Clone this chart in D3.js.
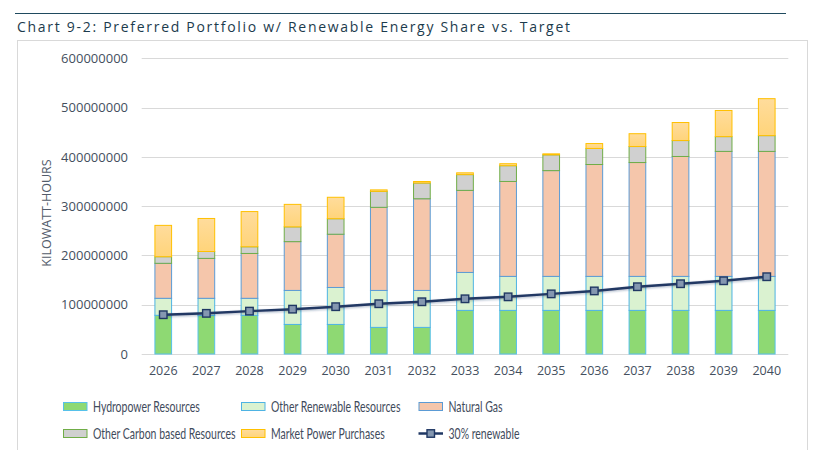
<!DOCTYPE html>
<html><head><meta charset="utf-8">
<script src="https://cdn.jsdelivr.net/npm/d3@7"></script>
<style>html,body{margin:0;padding:0;background:#fff;} svg{display:block;}</style>
</head><body>
<svg id="chart" width="825" height="450"></svg>
<script>
const title = "Chart 9-2: Preferred Portfolio w/ Renewable Energy Share vs. Target";
const yAxisTitle = "KILOWATT-HOURS";
const years = ["2026","2027","2028","2029","2030","2031","2032","2033","2034","2035","2036","2037","2038","2039","2040"];
const hydro      = [78500000,78500000,78500000,60000000,60000000,54000000,54000000,88500000,88500000,88500000,88500000,88500000,88500000,88500000,88500000];
const otherRenew = [34500000,34500000,34500000,69000000,75000000,75000000,75000000,77000000,69000000,69000000,69000000,69000000,69000000,69000000,69000000];
const naturalGas = [71000000,81000000,91000000,99000000,108000000,168600000,186000000,166500000,192600000,214600000,227000000,231000000,243300000,253600000,253600000];
const otherCarbon= [13400000,14000000,13600000,30000000,31500000,32400000,32000000,32000000,32000000,32000000,32500000,32500000,32300000,30000000,32000000];
const market     = [63600000,67000000,71400000,45600000,43500000,3000000,3000000,3600000,4000000,2000000,10000000,26000000,36600000,53000000,75000000];
const renewable30= [79700000,82500000,87000000,91000000,96000000,102000000,106000000,112000000,116000000,122000000,128000000,136500000,142600000,148600000,156800000];
const yTicks = [0,100000000,200000000,300000000,400000000,500000000,600000000];
const seriesNames = ["Hydropower Resources","Other Renewable Resources","Natural Gas","Other Carbon based Resources","Market Power Purchases"];
const lineName = "30% renewable";

const fills = ["#8ed973","#daf2d0","#f5c6ab","#d0d0d0","url(#mkt)"];
const strokes = ["#56c1ea","#4eb3e3","#5b9bd5","#70ad47","#ffc000"];
const font = "Lato, 'Open Sans', sans-serif";

const svg = d3.select("#chart");
const defs = svg.append("defs");
const g1 = defs.append("linearGradient").attr("id","mkt").attr("x1",0).attr("y1",0).attr("x2",0).attr("y2",1);
g1.append("stop").attr("offset","0%").attr("stop-color","#ffdc9c");
g1.append("stop").attr("offset","100%").attr("stop-color","#ffd47a");
const f = defs.append("filter").attr("id","sh").attr("x","-10%").attr("y","-50%").attr("width","120%").attr("height","200%");
f.append("feDropShadow").attr("dx",0.5).attr("dy",1).attr("stdDeviation",1.2).attr("flood-color","#203864").attr("flood-opacity",0.35);

// title & rule
svg.append("line").attr("x1",15).attr("x2",786).attr("y1",13.5).attr("y2",13.5).attr("stroke","#1f4a5e").attr("stroke-width",1.2);
svg.append("text").attr("x",17).attr("y",32).attr("font-family","Open Sans, sans-serif").attr("font-size",14)
  .attr("fill","#1c3b4d").attr("textLength",553).attr("lengthAdjust","spacing").text(title);
// chart area border
svg.append("rect").attr("x",17.5).attr("y",40.5).attr("width",790).attr("height",420).attr("fill","none").attr("stroke","#d9d9d9");

const x = d3.scaleBand().domain(years).range([141.7,788.3]).paddingInner(0.59).paddingOuter(0.295);
const y = d3.scaleLinear().domain([0,600000000]).range([354,58.3]);

// gridlines
svg.append("g").selectAll("line").data(yTicks).join("line")
  .attr("x1",141.7).attr("x2",788.3).attr("y1",d=>Math.round(y(d))+0.5).attr("y2",d=>Math.round(y(d))+0.5)
  .attr("stroke","#d9d9d9").attr("stroke-width",1);

// y axis labels
const yAxis = d3.axisLeft(y).tickValues(yTicks).tickFormat(d=>String(d)).tickSize(0).tickPadding(0);
const ya = svg.append("g").attr("transform","translate(128,0)").call(yAxis);
ya.select(".domain").remove();
ya.selectAll("text").attr("font-family","Open Sans, sans-serif").attr("font-size",13).attr("fill","#444f5e");

// x axis labels
const xAxis = d3.axisBottom(x).tickSize(0).tickPadding(0);
const xa = svg.append("g").attr("transform","translate(0,366)").call(xAxis);
xa.select(".domain").remove();
xa.selectAll("text").attr("font-family","Open Sans, sans-serif").attr("font-size",12.5).attr("fill","#444f5e");

// y axis title
svg.append("text").attr("transform","translate(51,213) rotate(-90)").attr("text-anchor","middle")
  .attr("font-family","Open Sans, sans-serif").attr("font-size",12.5).attr("fill","#535c6b").text(yAxisTitle);

// stacked bars
const rows = years.map((yr,i)=>({year:yr, s0:hydro[i], s1:otherRenew[i], s2:naturalGas[i], s3:otherCarbon[i], s4:market[i]}));
const stack = d3.stack().keys(["s0","s1","s2","s3","s4"])(rows);
const bars = svg.append("g");
stack.forEach((layer,k)=>{
  bars.append("g").selectAll("rect").data(layer).join("rect")
    .attr("x",d=>x(d.data.year)+0.5).attr("width",x.bandwidth()-1)
    .attr("y",d=>y(d[1])).attr("height",d=>y(d[0])-y(d[1]))
    .attr("fill",fills[k]).attr("stroke",strokes[k]).attr("stroke-width",1);
});

// line
const lineGen = d3.line().x((d,i)=>x(years[i])+x.bandwidth()/2).y(d=>y(d));
svg.append("path").datum(renewable30).attr("d",lineGen).attr("fill","none")
  .attr("stroke","#203864").attr("stroke-width",2.5).attr("filter","url(#sh)");
svg.append("g").selectAll("rect").data(renewable30).join("rect")
  .attr("x",(d,i)=>x(years[i])+x.bandwidth()/2-3.75).attr("y",d=>y(d)-3.75)
  .attr("width",7.5).attr("height",7.5).attr("fill","#8497b0").attr("stroke","#203864").attr("stroke-width",1.4);

// legend
const legPos = [[63,406.5],[241,406.5],[418.5,406.5],[63,433.5],[241,433.5]];
const leg = svg.append("g").attr("font-family",font).attr("font-size",14.5).attr("fill","#3f4b5c");
const legTexts = [];
seriesNames.forEach((n,k)=>{
  const [lx,ly] = legPos[k];
  leg.append("rect").attr("x",lx+0.5).attr("y",ly-4).attr("width",23.5).attr("height",8)
    .attr("fill",fills[k]).attr("stroke",strokes[k]).attr("stroke-width",1);
  legTexts.push(leg.append("text").attr("data-x",lx+30).attr("data-y",ly+5).text(n));
});
leg.append("line").attr("x1",418.5).attr("x2",443).attr("y1",433.5).attr("y2",433.5).attr("stroke","#203864").attr("stroke-width",2.5);
leg.append("rect").attr("x",427).attr("y",429.75).attr("width",7.5).attr("height",7.5).attr("fill","#8497b0").attr("stroke","#203864").attr("stroke-width",1.4);
legTexts.push(leg.append("text").attr("data-x",448.5).attr("data-y",438.5).text(lineName));
// horizontal compression to mimic a narrow (Calibri-like) face
const w0 = legTexts[0].node().getComputedTextLength();
const sx = Math.min(1, 107 / w0);
legTexts.forEach(t=>{
  t.attr("transform",`translate(${t.attr("data-x")},${t.attr("data-y")}) scale(${sx},1)`);
});
</script>
</body></html>
